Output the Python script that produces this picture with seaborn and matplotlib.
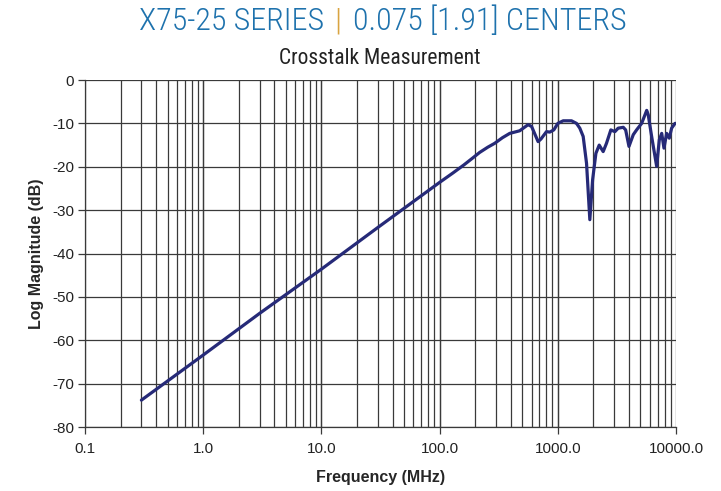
import numpy as np
import pandas as pd
import matplotlib
matplotlib.use("Agg")
import matplotlib.pyplot as plt
import seaborn as sns

# Crosstalk measurement, frequency in MHz and magnitude in dB
freq_mhz = [0.3, 1.0, 3.0, 10.0, 30.0, 100.0, 130.0, 160.0, 190.0, 218, 255,
            292, 340, 392, 476,
            560, 600, 681, 720, 802, 855, 925, 1000, 1110, 1306, 1440, 1535,
            1639, 1750, 1866, 1970, 2100, 2240, 2420, 2580, 2810, 3040, 3240,
            3580, 3750, 4000, 4350, 4640, 5120, 5650, 5820, 6220, 6860, 7220,
            7570, 7910, 8330, 8770, 9180, 9800, 10000]
mag_db = [-73.8, -63.4, -53.8, -43.6, -34.0, -23.6, -21.4, -19.6, -18.0, -16.7,
          -15.5, -14.6, -13.3, -12.3, -11.7, -10.3, -10.7, -14.2, -13.6, -11.9,
          -12.0, -11.5, -10.0, -9.4, -9.4, -10.0, -11.1, -13.0, -19.2, -32.2,
          -23.0, -16.9, -15.0, -16.5, -14.6, -11.5, -11.9, -11.1, -10.9, -11.5,
          -15.3, -12.6, -11.5, -10.0, -7.0, -8.0, -13.0, -19.9, -13.8, -12.3,
          -15.7, -12.3, -13.4, -11.1, -10.0, -10.0]

x_ticks = [0.1, 1.0, 10.0, 100.0, 1000.0, 10000.0]
x_tick_labels = ["0.1", "1.0", "10.0", "100.0", "1000.0", "10000.0"]
y_ticks = [0, -10, -20, -30, -40, -50, -60, -70, -80]

df = pd.DataFrame({"Frequency (MHz)": freq_mhz, "Log Magnitude (dB)": mag_db})

sns.set_style("white")
plt.rcParams["font.family"] = ["Liberation Sans", "DejaVu Sans"]

fig = plt.figure(figsize=(7.21, 4.91), dpi=100)
ax = fig.add_axes([0.1179, 0.1303, 0.8197, 0.7067])

grid_color = "#3a3a3a"
ax.set_xscale("log")
ax.set_xlim(0.1, 10000)
ax.set_ylim(-80, 0)

# full log grid: every decade and every intermediate integer multiple
for dec in [0.1, 1, 10, 100, 1000]:
    for m in range(1, 11):
        ax.axvline(dec * m, color=grid_color, lw=0.9, zorder=1)
for yv in y_ticks:
    ax.axhline(yv, color=grid_color, lw=0.9, zorder=1)

sns.lineplot(data=df, x="Frequency (MHz)", y="Log Magnitude (dB)", ax=ax,
             color="#262a78", lw=2.3, zorder=3, estimator=None, sort=False)

ax.set_xticks(x_ticks)
ax.set_xticklabels(x_tick_labels)
ax.xaxis.set_minor_locator(matplotlib.ticker.NullLocator())
ax.set_yticks(y_ticks)
ax.set_yticklabels([str(v) for v in y_ticks])
ax.tick_params(axis="both", which="major", direction="out", length=5,
               width=0.9, color=grid_color, labelsize=11, labelcolor="#222222",
               left=True, bottom=True, pad=3)
ax.tick_params(axis="x", pad=6)

for side in ["top", "right"]:
    ax.spines[side].set_visible(False)
for side in ["left", "bottom"]:
    ax.spines[side].set_color(grid_color)
    ax.spines[side].set_linewidth(0.9)

ax.set_xlabel("Frequency (MHz)", fontsize=11.5, fontweight="bold", labelpad=10)
ax.set_ylabel("Log Magnitude (dB)", fontsize=11.5, fontweight="bold", labelpad=6)

# header line with a coloured separator
title_font = ["Roboto Condensed", "Liberation Sans", "DejaVu Sans"]
blue = "#1e72ad"
ty = 1 - 21 / 491
fig.text(324 / 721, ty, "X75-25 SERIES", ha="right", va="center",
         fontsize=23, fontweight="light", color=blue, family=title_font)
fig.text(338 / 721, ty, "|", ha="center", va="center",
         fontsize=23, fontweight="light", color="#d9a441", family=title_font)
fig.text(353 / 721, ty, "0.075 [1.91] CENTERS", ha="left", va="center",
         fontsize=23, fontweight="light", color=blue, family=title_font)
fig.text(380 / 721, 1 - 58 / 491, "Crosstalk Measurement", ha="center",
         va="center", fontsize=15.5, color="#222222", family=title_font)

fig.savefig("out.png", dpi=100, facecolor="white")
